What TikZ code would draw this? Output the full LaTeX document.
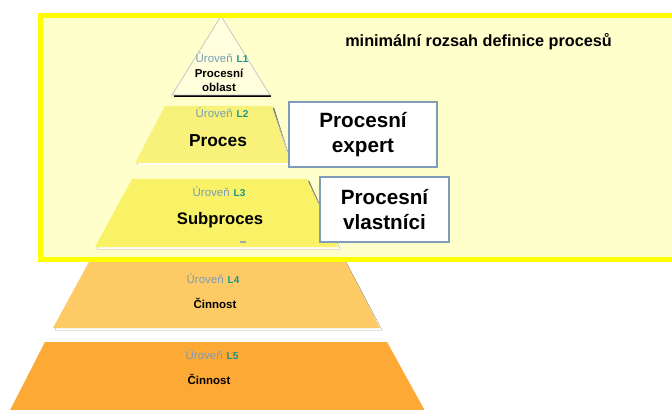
\documentclass[tikz,border=0pt]{standalone}
\usepackage{fontspec}
\setmainfont{Liberation Sans}
\definecolor{framefill}{HTML}{FFFFCC}
\definecolor{frameline}{HTML}{FFFF00}
\definecolor{lvlone}{HTML}{FFFFDD}
\definecolor{lvltwo}{HTML}{F8F27A}
\definecolor{lvlthree}{HTML}{FAF266}
\definecolor{lvlfour}{HTML}{FDCA66}
\definecolor{lvlfive}{HTML}{FDA935}
\definecolor{lvlword}{HTML}{7C9BB5}
\definecolor{lvlcode}{HTML}{16958A}
\definecolor{boxline}{HTML}{7F9DB9}
\definecolor{shade}{HTML}{A8A38C}
\tikzset{
  lvltag/.style={inner sep=0pt, font=\fontsize{8.6}{10}\selectfont},
  lvlname/.style={inner sep=0pt, align=center, font=\bfseries\fontsize{8.6}{10.5}\selectfont},
  bigname/.style={inner sep=0pt, font=\bfseries\fontsize{13}{15}\selectfont},
  rolebox/.style={draw=boxline, line width=1.1pt, fill=white, align=center,
    font=\bfseries\fontsize{15.5}{19}\selectfont, inner sep=0pt}
}
\newcommand{\lvltext}[1]{\textcolor{lvlword}{Úroveň}\hspace{0.35em}\textcolor{lvlcode}{\bfseries\fontsize{7.5}{9}\selectfont #1}}
\begin{document}
\begin{tikzpicture}[x=0.75pt,y=-0.75pt]
\useasboundingbox (0,0) rectangle (672,410);
\clip (0,0) rectangle (672,410);
\fill[white] (0,0) rectangle (672,410);

% scope frame background
\fill[framefill] (40,15.5) rectangle (690,259.5);

% level 1 (triangle)
\draw[shade, line width=1.5pt] (174,96.5) -- (271,96.5);
\filldraw[fill=lvlone, draw=gray!45, line width=0.6pt] (172,95) -- (221,16) -- (270,95) -- cycle;

% level 2
\fill[shade] (166,108) -- (274,108) -- (292,165) -- (137,165) -- cycle;
\fill[lvltwo] (165,106) -- (272,106) -- (290,163) -- (135,163) -- cycle;

% level 3
\fill[shade] (133,181) -- (309,181) -- (340,249) -- (97,249) -- cycle;
\fill[lvlthree] (132,179) -- (307,179) -- (338,247) -- (95,247) -- cycle;
\draw[gray!70, line width=0.8pt] (240,242) -- (246,242);

% level 4
\fill[shade] (91,262) -- (346,262) -- (382,330) -- (55,330) -- cycle;
\fill[lvlfour] (90,260) -- (345,260) -- (380,328) -- (53,328) -- cycle;

% level 5
\fill[lvlfive] (45,342) -- (387,342) -- (430,420) -- (5,420) -- cycle;

% scope frame border
\draw[frameline, line width=3.75pt] (40,15.5) rectangle (690,259.5);

% labels
\node[lvltag] (u1) at (222,58) {\lvltext{L1}};
\node[lvlname] (n1) at (219,80) {Procesní\\oblast};
\node[lvltag] (u2) at (222,113) {\lvltext{L2}};
\node[bigname] (n2) at (218,141) {Proces};
\node[lvltag] (u3) at (219,192) {\lvltext{L3}};
\node[bigname, font=\bfseries\fontsize{12.5}{15}\selectfont] (n3) at (220,220) {Subproces};
\node[lvltag] (u4) at (213,279) {\lvltext{L4}};
\node[lvlname] (n4) at (215,303) {Činnost};
\node[lvltag] (u5) at (212,355) {\lvltext{L5}};
\node[lvlname] (n5) at (209,379) {Činnost};

\node[anchor=west, inner sep=0pt, font=\bfseries\fontsize{12.2}{14}\selectfont] (title) at (345,42) {minimální rozsah definice procesů};

% roles
\node[rolebox, minimum width=148*0.75pt, minimum height=65*0.75pt] (expert) at (363,134.5) {Procesní\\expert};
\node[rolebox, minimum width=129*0.75pt, minimum height=65*0.75pt] (owners) at (384.5,209.5) {Procesní\\vlastníci};
\end{tikzpicture}
\end{document}
